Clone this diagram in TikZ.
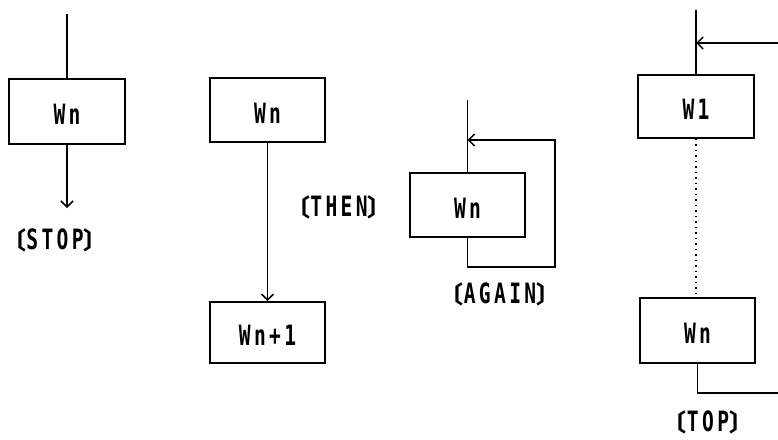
\documentclass[tikz,border=0pt]{standalone}
\usepackage{fontspec}
\usetikzlibrary{arrows.meta}
\newfontfamily\dotfont[FakeStretch=0.7,LetterSpace=12]{DejaVu Sans Mono}
\newfontfamily\cjkfont{Noto Sans CJK JP}
\newcommand\lbrk{\makebox[14pt][r]{\smash{\cjkfont\bfseries\fontsize{24}{24}\selectfont 〔}}}
\newcommand\rbrk{\makebox[14pt][l]{\smash{\cjkfont\bfseries\fontsize{24}{24}\selectfont 〕}}}
\tikzset{
  wbox/.style={draw,line width=1.8pt,minimum width=115pt,minimum height=64pt,inner sep=0pt,
    text height=26pt,text depth=0pt,
    font=\dotfont\bfseries\fontsize{28}{28}\selectfont},
  lbl/.style={inner sep=0pt,text height=16pt,text depth=0pt,
    font=\dotfont\bfseries\fontsize{28}{28}\selectfont},
  conn/.style={line width=1.5pt},
  arr/.style={conn,-{Straight Barb[length=6pt,width=12pt,line width=1.5pt]}},
  dots/.style={line width=1.6pt,dash pattern=on 1.5pt off 4pt}
}
\begin{document}
\begin{tikzpicture}[x=1pt,y=-1pt]
\useasboundingbox (0,0) rectangle (778,439);
% panel 1
\node[wbox,minimum width=116pt,minimum height=65pt] (b1) at (67,111.5) {Wn};
\coordinate (t1) at (67,14);
\coordinate (s1) at (67,208);
\draw[conn] (t1) -- (b1.north);
\draw[arr] (b1.south) -- (s1);
\node[lbl] (l1) at (55,241) {\lbrk STOP\rbrk};
% panel 2
\node[wbox] (b2) at (267.5,110) {Wn};
\node[wbox,minimum height=61pt] (b3) at (267.5,332.5) {Wn+1};
\draw[arr] (b2.south) -- (b3.north);
\node[lbl] (l2) at (339,208) {\lbrk THEN\rbrk};
% panel 3
\node[wbox] (b4) at (467.5,205) {Wn};
\coordinate (t3) at (467.5,100);
\coordinate (j3) at (467.5,140);
\coordinate (c3a) at (467.5,267);
\coordinate (c3b) at (555,267);
\coordinate (c3c) at (555,140);
\draw[conn] (t3) -- (b4.north);
\draw[arr] (b4.south) -- (c3a) -- (c3b) -- (c3c) -- (j3);
\node[lbl] (l3) at (500,295) {\lbrk AGAIN\rbrk};
% panel 4
\node[wbox,minimum width=116pt,minimum height=63pt] (b5) at (696,106.5) {W1};
\node[wbox,minimum height=65pt] (b6) at (697.5,330.5) {Wn};
\coordinate (t4) at (696,10);
\coordinate (j4) at (696,43);
\coordinate (e4) at (778,43);
\coordinate (c4a) at (697.5,393);
\coordinate (c4b) at (778,393);
\draw[conn] (t4) -- (b5.north);
\draw[arr] (e4) -- (j4);
\draw[dots] (b5.south) -- (b6.north -| b5.south);
\draw[conn] (b6.south) -- (c4a) -- (c4b);
\node[lbl] (l4) at (708,423) {\lbrk TOP\rbrk};
\end{tikzpicture}
\end{document}
